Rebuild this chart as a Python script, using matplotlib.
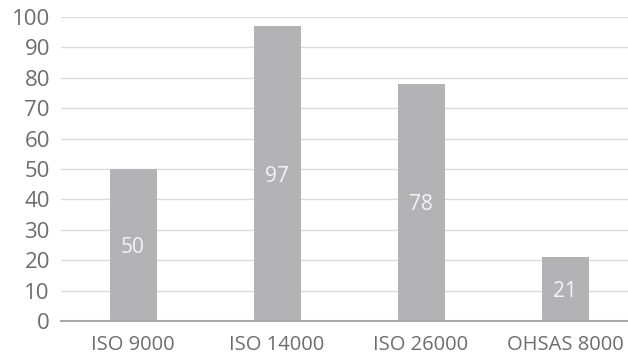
import matplotlib
matplotlib.use("Agg")
import matplotlib.pyplot as plt

categories = ["ISO 9000", "ISO 14000", "ISO 26000", "OHSAS 8000"]
values = [50, 97, 78, 21]
yticks = [0, 10, 20, 30, 40, 50, 60, 70, 80, 90, 100]

plt.rcParams['font.family'] = ['Open Sans', 'DejaVu Sans']

fig = plt.figure(figsize=(6.28, 3.54), dpi=100)
ax = fig.add_axes([61/628, 1-321/354, 576/628, 304/354])

x = list(range(len(categories)))
bars = ax.bar(x, values, width=47/144, color="#b3b3b6", zorder=3)
for xi, v in zip(x, values):
    ax.text(xi, v/2, str(v), ha="center", va="center_baseline", color="#f4f4f4", fontsize=15, zorder=4)

ax.set_xlim(-0.5, len(categories)-0.5)
ax.set_ylim(0, 100)
ax.set_yticks(yticks)
ax.set_xticks(x)
ax.set_xticklabels(categories)
ax.grid(axis="y", color="#dcdcdc", linewidth=1, zorder=0)
for s in ["top", "right", "left"]:
    ax.spines[s].set_visible(False)
ax.spines["bottom"].set_color("#a8a8a8")
ax.spines["bottom"].set_linewidth(1.5)
ax.spines["bottom"].set_zorder(5)
ax.tick_params(axis="both", length=0, colors="#6d6d6d")
ax.tick_params(axis="y", pad=8, labelsize=16)
ax.tick_params(axis="x", pad=10, labelsize=14.5)

fig.savefig("out.png", dpi=100)
